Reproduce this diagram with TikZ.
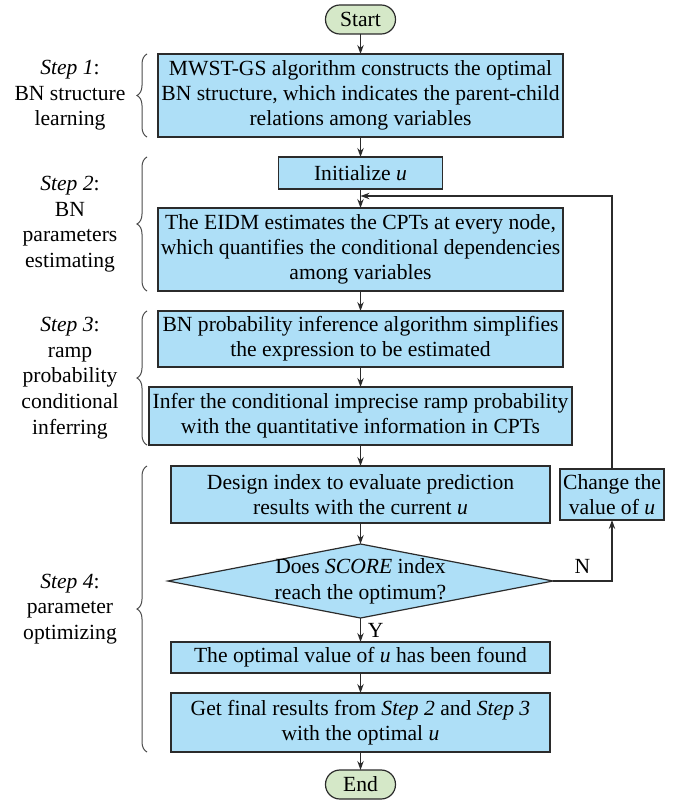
\documentclass[tikz,border=0pt]{standalone}
\usepackage{fontspec}
\setmainfont{Liberation Serif}
\usetikzlibrary{positioning,shapes.geometric,arrows.meta,calc,decorations.pathreplacing}
\definecolor{bnblue}{HTML}{AEDFF7}
\definecolor{bngreen}{HTML}{D5E8C8}
\definecolor{bnink}{HTML}{2B2B2B}
\tikzset{
  proc/.style={draw=bnink,fill=bnblue,line width=0.6pt,inner sep=1pt,outer sep=0pt,align=center,font=\fontsize{10.8}{12.5}\selectfont},
  term/.style={proc,fill=bngreen,rounded corners=7.2pt,minimum width=35pt,minimum height=14.5pt},
  dec/.style={proc,shape=diamond,inner sep=0pt,minimum width=192.5pt,minimum height=37pt},
  lnk/.style={-{Stealth[length=4.5pt,width=3.2pt]},line width=0.6pt,draw=bnink},
  brc/.style={decorate,decoration={brace,amplitude=5pt},line width=0.5pt,draw=bnink!85},
  lbl/.style={align=center,font=\fontsize{10.8}{12.8}\selectfont},
}
\begin{document}
\begin{tikzpicture}[x=0.5pt,y=-0.5pt,node distance=10pt]
  \useasboundingbox (0,0) rectangle (683,802);
  % main column
  \node[term] (start) at (360.5,19.5) {Start};
  \node[proc,below=of start,minimum width=202.5pt,minimum height=41.5pt] (mwst) {MWST-GS algorithm constructs the optimal\\BN structure, which indicates the parent-child\\relations among variables};
  \node[proc,below=of mwst,minimum width=82pt,minimum height=16pt] (init) {Initialize \textit{u}};
  \node[proc,below=9.5pt of init,minimum width=202.5pt,minimum height=41.5pt] (eidm) {The EIDM estimates the CPTs at every node,\\which quantifies the conditional dependencies\\among variables};
  \node[proc,below=of eidm,minimum width=202.5pt,minimum height=28pt] (bnp) {BN probability inference algorithm simplifies\\the expression to be estimated};
  \node[proc,below=of bnp,minimum width=211.5pt,minimum height=29pt] (infer) {Infer the conditional imprecise ramp probability\\with the quantitative information in CPTs};
  \node[proc,below=10.5pt of infer,minimum width=189.5pt,minimum height=28.5pt] (design) {Design index to evaluate prediction\\results with the current \textit{u}};
  \node[dec,below=10.5pt of design] (score) {};
  \node[lbl] (scoretxt) at (score) {Does \textit{SCORE} index\\reach the optimum?};
  \node[proc,below=12pt of score,minimum width=189.5pt,minimum height=15.5pt] (opt) {The optimal value of \textit{u} has been found};
  \node[proc,below=of opt,minimum width=189.5pt,minimum height=29.5pt] (final) {Get final results from \textit{Step 2} and \textit{Step 3}\\with the optimal \textit{u}};
  \node[term,below=9pt of final] (end) {End};
  \node[proc,right=5pt of design,minimum width=52pt,minimum height=25.5pt] (chg) {Change the\\value of \textit{u}};
  % connectors
  \draw[lnk](start)--(mwst);\draw[lnk](mwst)--(init);\draw[lnk](init)--(eidm);
  \draw[lnk](eidm)--(bnp);\draw[lnk](bnp)--(infer);\draw[lnk](infer)--(design);
  \draw[lnk](design)--(score.north);
  \draw[lnk](score.south)--node[right,lbl]{Y}(opt);
  \draw[lnk](opt)--(final);\draw[lnk](final)--(end);
  \draw[lnk](score.east)-|node[pos=0.25,above,lbl]{N}(chg.south);
  \coordinate[below=3.5pt of init.south] (fb);
  \draw[lnk](chg.north)|-(fb);
  % step braces and labels
  \coordinate (bx) at (147,0);
  \coordinate (lx) at (70,0);
  \draw[brc](mwst.south -| bx)--coordinate[midway](b1)(mwst.north -| bx);
  \draw[brc](eidm.south -| bx)--coordinate[midway](b2)(init.north -| bx);
  \draw[brc](infer.south -| bx)--coordinate[midway](b3)(bnp.north -| bx);
  \draw[brc](final.south -| bx)--coordinate[midway](b4)(design.north -| bx);
  \node[lbl] (s1) at (b1 -| lx) {\textit{Step 1}:\\BN structure\\learning};
  \node[lbl] (s2) at (b2 -| lx) {\textit{Step 2}:\\BN\\parameters\\estimating};
  \node[lbl] (s3) at (b3 -| lx) {\textit{Step 3}:\\ramp\\probability\\conditional\\inferring};
  \node[lbl] (s4) at (b4 -| lx) {\textit{Step 4}:\\parameter\\optimizing};
\end{tikzpicture}
\end{document}
